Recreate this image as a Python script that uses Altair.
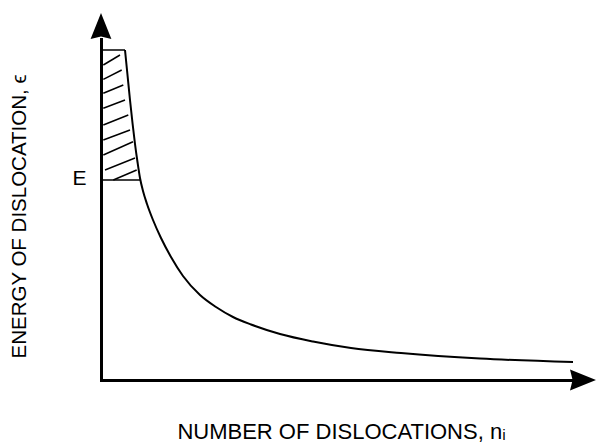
import altair as alt
import pandas as pd

# Curve: number of dislocations (n) vs energy of dislocation (eps), schematic units
curve_n = [24, 26.5, 29, 31.5, 34, 36.5, 39, 42, 46, 52, 60, 70, 82, 99, 115, 132,
           150, 179, 212, 250, 300, 379, 472]
curve_e = [330, 305, 280, 257, 236, 218, 202, 189, 176, 160, 142, 123, 104, 85, 73, 63,
           55.5, 46, 38.5, 32, 27, 21.5, 18]

# Shaded (hatched) region bounds: top and bottom edges
box_n1 = [0, 0]
box_n2 = [24, 40]
box_e = [330, 200]

# Hatch strokes inside the region
hatch_n1 = [2.3, 2.3, 2.3, 2.3, 2.3, 2.3, 2.3, 4, 12.3]
hatch_e1 = [315, 300.7, 286.7, 271.7, 255, 240, 225, 210, 200]
hatch_n2 = [19, 20.7, 22.3, 24, 27.3, 29, 32, 34, 35.7]
hatch_e2 = [325, 310, 295, 280, 265, 250, 238.3, 222, 210]

# Axis arrowheads (ends of the axes)
arrow_n = [0, 482]
arrow_e = [354, 0]
arrow_angle = [0, 90]

# Axis texts
x_title = "NUMBER OF DISLOCATIONS, nᵢ"
y_title = "ENERGY OF DISLOCATION, ϵ"
e_level = [200]
e_label = "E"

FONT = "Liberation Sans"

curve_df = pd.DataFrame({"n": curve_n, "e": curve_e})
box_df = pd.DataFrame({"n": box_n1, "n2": box_n2, "e": box_e})
hatch_df = pd.DataFrame({"n": hatch_n1, "e": hatch_e1, "n2": hatch_n2, "e2": hatch_e2})
arrow_df = pd.DataFrame({"n": arrow_n, "e": arrow_e, "angle": arrow_angle})

x_scale = alt.Scale(domain=[0, 470], nice=False, zero=False)
y_scale = alt.Scale(domain=[0, 341], nice=False, zero=False)

x_axis = alt.Axis(
    title=x_title, labels=False, ticks=False, tickSize=0, grid=False,
    domainColor="black", domainWidth=3, domainCap="square",
    titleX=240, titleY=58, titleAlign="center", titleBaseline="alphabetic",
    titleFontSize=22, titleFontWeight="normal", titleFont=FONT, titleColor="black",
)
y_axis = alt.Axis(
    title=y_title, values=e_level, labelExpr="'" + e_label + "'",
    ticks=False, tickSize=0, grid=False,
    domainColor="black", domainWidth=3, domainCap="square",
    labelFontSize=21, labelFont=FONT, labelColor="black", labelPadding=15,
    labelOffset=-2, labelAlign="right", labelBaseline="middle",
    titleX=-76, titleY=177, titleAngle=270, titleAlign="center",
    titleBaseline="alphabetic", titleFontSize=20.5, titleFontWeight="normal",
    titleFont=FONT, titleColor="black",
)

curve = alt.Chart(curve_df).mark_line(
    color="black", strokeWidth=2, interpolate="monotone"
).encode(
    x=alt.X("n:Q", scale=x_scale, axis=x_axis),
    y=alt.Y("e:Q", scale=y_scale, axis=y_axis),
)

box = alt.Chart(box_df).mark_rule(color="black", strokeWidth=1.5).encode(
    x=alt.X("n:Q", scale=x_scale, axis=x_axis),
    x2="n2:Q",
    y=alt.Y("e:Q", scale=y_scale, axis=y_axis),
)

hatch = alt.Chart(hatch_df).mark_rule(color="black", strokeWidth=1.5).encode(
    x=alt.X("n:Q", scale=x_scale, axis=x_axis),
    x2="n2:Q",
    y=alt.Y("e:Q", scale=y_scale, axis=y_axis),
    y2="e2:Q",
)

arrows = alt.Chart(arrow_df).mark_point(
    shape="M0,-1L0.8,1L0,0.8L-0.8,1Z", filled=True, size=676,
    color="black", opacity=1, strokeWidth=0,
).encode(
    x=alt.X("n:Q", scale=x_scale, axis=x_axis),
    y=alt.Y("e:Q", scale=y_scale, axis=y_axis),
    angle=alt.Angle("angle:Q", scale=None),
)

chart = alt.layer(curve, box, hatch, arrows).properties(
    width=470,
    height=341,
    autosize=alt.AutoSizeParams(type="none"),
    padding={"left": 93, "top": 31, "right": 25, "bottom": 65},
    background="white",
).configure_view(stroke=None)

chart.save("out.html", embed_options={"renderer": "svg", "actions": False})
